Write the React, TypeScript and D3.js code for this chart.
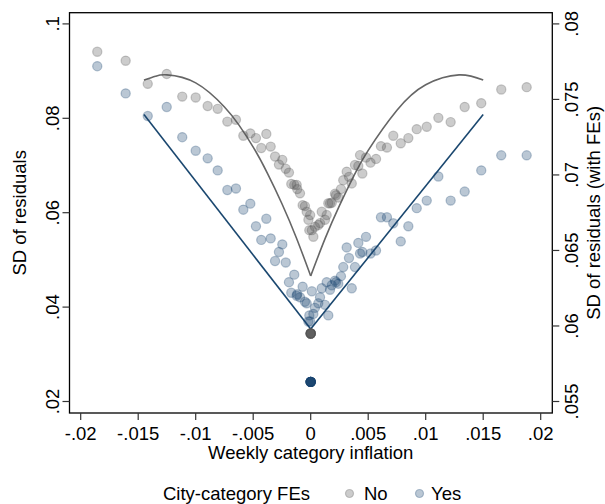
import React, { useEffect, useRef } from "react";
import * as d3 from "d3";

// weekly category inflation bins, SD of residuals without / with city-category FEs
const inflation = [
  -0.01856, -0.01609, -0.01417, -0.01252, -0.01117, -0.01, -0.00896, -0.00809, -0.00725, -0.0065,
  -0.00586, -0.00525, -0.00476, -0.0043, -0.00386, -0.00348, -0.0031, -0.00276, -0.00247, -0.00217,
  -0.00189, -0.00169, -0.00143, -0.00122, -0.00117, -0.00093, -0.0007, -0.0005, -0.00035, -0.0002,
  -0.00012, -0.00005, 0.0001, 0.00023, 0.00037, 0.00066, 0.00081, 0.00096, 0.00124, 0.00139,
  0.00153, 0.00168, 0.00183, 0.00211, 0.0022, 0.0024, 0.00263, 0.00283, 0.00313, 0.00333,
  0.00357, 0.00385, 0.00414, 0.00429, 0.00449, 0.00481, 0.0052, 0.00568, 0.00611, 0.00663,
  0.00718, 0.00783, 0.00849, 0.00922, 0.01009, 0.0111, 0.01217, 0.01339, 0.01483, 0.01657,
  0.01878,
];
const sdNoFE = [
  0.0941, 0.0922, 0.0873, 0.0894, 0.0846, 0.0844, 0.0826, 0.082, 0.0793, 0.0797,
  0.0763, 0.0768, 0.0758, 0.0737, 0.0767, 0.074, 0.0719, 0.0702, 0.0712, 0.0693,
  0.0685, 0.0661, 0.0659, 0.0659, 0.065, 0.0641, 0.0616, 0.0614, 0.0602, 0.0585,
  0.0563, 0.0595, 0.0563, 0.0549, 0.057, 0.0574, 0.0578, 0.0602, 0.0585, 0.0595,
  0.062, 0.062, 0.0621, 0.064, 0.0637, 0.0632, 0.065, 0.0669, 0.0687, 0.0676,
  0.0662, 0.0701, 0.0699, 0.0722, 0.0683, 0.0717, 0.0706, 0.0714, 0.0741, 0.0738,
  0.0763, 0.0747, 0.0758, 0.0777, 0.0782, 0.0801, 0.0792, 0.0824, 0.0832, 0.0861,
  0.0866,
];
const sdFE = [
  0.0772, 0.0754, 0.0739, 0.0745, 0.0725, 0.0716, 0.0711, 0.0703, 0.069, 0.0691,
  0.0677, 0.0681, 0.0666, 0.0657, 0.0671, 0.0658, 0.0643, 0.0649, 0.0654, 0.0642,
  0.0629, 0.0622, 0.0634, 0.062, 0.0621, 0.0619, 0.0626, 0.0616, 0.0615, 0.0603,
  0.0607, 0.0603, 0.0623, 0.0608, 0.0612, 0.0615, 0.0619, 0.0625, 0.0614, 0.0629,
  0.0607, 0.0624, 0.0627, 0.063, 0.0629, 0.0628, 0.0633, 0.0639, 0.0652, 0.0645,
  0.0625, 0.0639, 0.0655, 0.0648, 0.0649, 0.0659, 0.0648, 0.065, 0.0672, 0.0672,
  0.0668, 0.0656, 0.0666, 0.0678, 0.0683, 0.0699, 0.0683, 0.0689, 0.0703, 0.0713,
  0.0713,
];

// many categories with exactly zero inflation sit on top of each other
const zeroNoFE = 0.0344;
const zeroFE = 0.0563;
const zeroCount = 8;

// fitted lines
const fitNoFELeftX = [-0.0145, -0.0135, -0.0125, -0.01, -0.0075, -0.00625, -0.005, -0.00375, -0.0025, -0.00125, 0];
const fitNoFELeftY = [0.0881, 0.0889, 0.0892, 0.0875, 0.0824, 0.0786, 0.0739, 0.0683, 0.0619, 0.0547, 0.0466];
const fitNoFERightX = [0, 0.00125, 0.0025, 0.00375, 0.005, 0.0075, 0.01, 0.0129, 0.015];
const fitNoFERightY = [0.0466, 0.0545, 0.0615, 0.0678, 0.0732, 0.0817, 0.0871, 0.0892, 0.0881];
const fitFELeftX = [-0.0145, 0];
const fitFELeftY = [0.074, 0.0598];
const fitFERightX = [0, 0.015];
const fitFERightY = [0.0598, 0.074];

const xTicks = [-0.02, -0.015, -0.01, -0.005, 0, 0.005, 0.01, 0.015, 0.02];
const yLeftTicks = [0.02, 0.04, 0.06, 0.08, 0.1];
const yRightTicks = [0.055, 0.06, 0.065, 0.07, 0.075, 0.08];

const GREY = "#555555";
const NAVY = "#1a476f";
const FONT = "'Liberation Sans', Arial, sans-serif";
const FS = 18.5;

const fmt = (v: number) => (v === 0 ? "0" : String(+v.toFixed(3)).replace("0.", "."));

export default function App() {
  const ref = useRef<SVGSVGElement>(null);

  useEffect(() => {
    const W = 605, H = 504;
    const box = { left: 69.5, right: 552.3, top: 12.7, bottom: 413 };

    const svg = d3.select(ref.current);
    svg.selectAll("*").remove();
    svg.append("rect").attr("width", W).attr("height", H).attr("fill", "#fff");

    const x = d3.scaleLinear().domain([-0.02, 0.02]).range([80.7, 540.7]);
    const yL = d3.scaleLinear().domain([0.02, 0.1]).range([401.5, 23.9]);
    const yR = d3.scaleLinear().domain([0.055, 0.08]).range([401.5, 23.9]);

    const plot = svg.append("g");

    // fit lines
    const drawFit = (xs: number[], ys: number[], y: d3.ScaleLinear<number, number>, color: string) => {
      const line = d3.line<number>().x((d, i) => x(xs[i])).y(d => y(d)).curve(d3.curveNatural);
      plot.append("path").attr("d", line(ys)).attr("fill", "none")
        .attr("stroke", color).attr("stroke-width", 1.6);
    };
    drawFit(fitNoFELeftX, fitNoFELeftY, yL, "#666666");
    drawFit(fitNoFERightX, fitNoFERightY, yL, "#666666");
    drawFit(fitFELeftX, fitFELeftY, yR, NAVY);
    drawFit(fitFERightX, fitFERightY, yR, NAVY);

    const dot = (sel: any, color: string) =>
      sel.attr("r", 4.6)
        .attr("fill", color).attr("fill-opacity", 0.3)
        .attr("stroke", color).attr("stroke-opacity", 0.3).attr("stroke-width", 1.2);

    // no FEs (left axis)
    plot.append("g").selectAll("circle").data(inflation).join("circle")
      .attr("cx", d => x(d)).attr("cy", (d, i) => yL(sdNoFE[i])).call(dot, GREY);
    plot.append("g").selectAll("circle").data(d3.range(zeroCount)).join("circle")
      .attr("cx", x(0)).attr("cy", yL(zeroNoFE)).call(dot, GREY);

    // with FEs (right axis)
    plot.append("g").selectAll("circle").data(inflation).join("circle")
      .attr("cx", d => x(d)).attr("cy", (d, i) => yR(sdFE[i])).call(dot, NAVY);
    plot.append("g").selectAll("circle").data(d3.range(zeroCount + 4)).join("circle")
      .attr("cx", x(0)).attr("cy", yR(zeroFE)).call(dot, NAVY);

    // frame
    svg.append("rect").attr("x", box.left).attr("y", box.top)
      .attr("width", box.right - box.left).attr("height", box.bottom - box.top)
      .attr("fill", "none").attr("stroke", "#000").attr("stroke-width", 1.3);

    const txt = (g: any) => g.attr("font-family", FONT).attr("font-size", FS).attr("fill", "#000");

    // bottom axis
    const gx = svg.append("g");
    gx.selectAll("line").data(xTicks).join("line")
      .attr("x1", d => x(d)).attr("x2", d => x(d)).attr("y1", box.bottom).attr("y2", box.bottom + 7)
      .attr("stroke", "#333").attr("stroke-width", 1.2);
    gx.selectAll("text").data(xTicks).join("text")
      .attr("x", d => x(d)).attr("y", 440).attr("text-anchor", "middle").text(d => fmt(d)).call(txt);
    svg.append("text").attr("x", x(0)).attr("y", 459).attr("text-anchor", "middle")
      .text("Weekly category inflation").call(txt);

    // left axis
    const gl = svg.append("g");
    gl.selectAll("line").data(yLeftTicks).join("line")
      .attr("x1", box.left - 7).attr("x2", box.left).attr("y1", d => yL(d)).attr("y2", d => yL(d))
      .attr("stroke", "#333").attr("stroke-width", 1.2);
    gl.selectAll("text").data(yLeftTicks).join("text")
      .attr("transform", d => `translate(59, ${yL(d)}) rotate(-90)`)
      .attr("text-anchor", "middle").text(d => fmt(d)).call(txt);
    svg.append("text").attr("transform", `translate(26, ${(box.top + box.bottom) / 2}) rotate(-90)`)
      .attr("text-anchor", "middle").text("SD of residuals").call(txt);

    // right axis
    const gr = svg.append("g");
    gr.selectAll("line").data(yRightTicks).join("line")
      .attr("x1", box.right).attr("x2", box.right + 7).attr("y1", d => yR(d)).attr("y2", d => yR(d))
      .attr("stroke", "#333").attr("stroke-width", 1.2);
    gr.selectAll("text").data(yRightTicks).join("text")
      .attr("transform", d => `translate(578, ${yR(d)}) rotate(-90)`)
      .attr("text-anchor", "middle").text(d => fmt(d)).call(txt);
    svg.append("text").attr("transform", `translate(600, ${(box.top + box.bottom) / 2}) rotate(-90)`)
      .attr("text-anchor", "middle").text("SD of residuals (with FEs)").call(txt);

    // legend
    const lg = svg.append("g");
    lg.append("text").attr("x", 163).attr("y", 500).text("City-category FEs").call(txt);
    lg.append("circle").attr("cx", 349.5).attr("cy", 493.5).call(dot, GREY).attr("r", 4);
    lg.append("text").attr("x", 364).attr("y", 500).text("No").call(txt);
    lg.append("circle").attr("cx", 419.5).attr("cy", 493.5).call(dot, NAVY).attr("r", 4);
    lg.append("text").attr("x", 431).attr("y", 500).text("Yes").call(txt);
  }, []);

  return (
    <svg ref={ref} width={605} height={504}
      style={{ position: "absolute", left: 0, top: 0, display: "block" }} />
  );
}
